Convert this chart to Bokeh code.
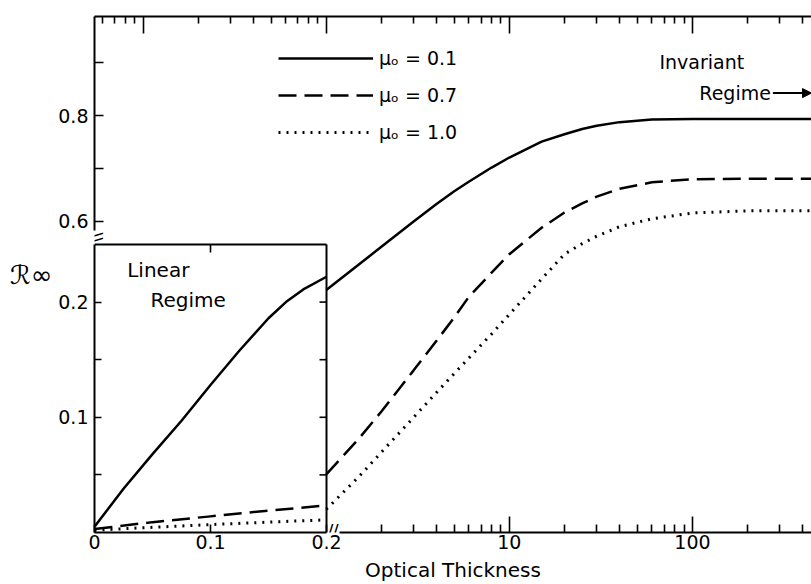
import math
from bokeh.plotting import figure
from bokeh.layouts import column
from bokeh.models import (Range1d, LinearAxis, LogAxis, FixedTicker, Label, Arrow,
                          NormalHead, Legend, LegendItem)
from bokeh.embed import file_html
from bokeh.resources import INLINE

# ---------------- data ----------------
# right-hand (log) part: optical thickness >= 1
tau = [1, 1.5, 2, 3, 4, 5, 6, 8, 10, 15, 20, 25, 30, 40, 60, 100, 200, 500]
r_mu01 = [0.470, 0.518, 0.552, 0.600, 0.633, 0.657, 0.675, 0.702, 0.721, 0.751,
          0.765, 0.775, 0.781, 0.788, 0.793, 0.794, 0.794, 0.794]
r_mu07 = [0.121, 0.188, 0.240, 0.318, 0.374, 0.418, 0.457, 0.503, 0.538, 0.588,
          0.617, 0.634, 0.647, 0.662, 0.674, 0.680, 0.681, 0.681]
r_mu10 = [0.055, 0.116, 0.163, 0.229, 0.276, 0.312, 0.341, 0.387, 0.424, 0.491,
          0.538, 0.558, 0.572, 0.590, 0.605, 0.616, 0.620, 0.620]

# inset (linear) part: optical thickness 0 .. 0.2
lin_x = [0, 0.025, 0.05, 0.075, 0.1, 0.125, 0.15, 0.165, 0.18, 0.2]
lin_mu01 = [0.005, 0.038, 0.068, 0.097, 0.128, 0.158, 0.186, 0.200, 0.211, 0.222]
lin_x2 = [0, 0.05, 0.1, 0.15, 0.2]
lin_mu07 = [0.003, 0.009, 0.014, 0.019, 0.0235]
lin_mu10 = [0.002, 0.0045, 0.0069, 0.009, 0.011]

legend_labels = ["\u03bc\u2092 = 0.1", "\u03bc\u2092 = 0.7", "\u03bc\u2092 = 1.0"]

upper_ticks = [0.6, 0.7, 0.8, 0.9]
upper_tick_labels = {0.6: "0.6", 0.7: "", 0.8: "0.8", 0.9: ""}
bottom_major = [10, 100]
bottom_major_labels = {10: "10", 100: "100"}
bottom_minor = [2, 3, 4, 5, 6, 7, 8, 9, 20, 30, 40, 50, 60, 70, 80, 90, 200, 300, 400]
top_major = [0.1, 1, 10, 100]
top_minor = [0.06, 0.07, 0.08, 0.09, 0.2, 0.3, 0.4, 0.5, 0.6, 0.7, 0.8, 0.9] + bottom_minor
inset_y_ticks = [0.05, 0.1, 0.15, 0.2]
inset_y_labels = {0.05: "", 0.1: "0.1", 0.15: "", 0.2: "0.2"}
inset_x_ticks = [0, 0.1, 0.2]
inset_x_labels = {0: "0", 0.1: "0.1", 0.2: "0.2"}
inset_top_ticks = [0.1]
inset_x_max = 0.2      # inset box: optical thickness 0 .. 0.2
inset_y_max = 0.25     # inset box: R 0 .. 0.25

# ---------------- styling ----------------
W, H = 811, 584
FONT = "DejaVu Sans"
INK = "black"
BORDERS = dict(min_border_left=94, min_border_right=0, min_border_top=16,
               min_border_bottom=52)


def style_axis(ax, tick_in, minor_in=0, labels=True, font_size="19px"):
    ax.axis_line_width = 2
    ax.axis_line_color = INK
    ax.major_tick_in = tick_in
    ax.major_tick_out = 0
    ax.minor_tick_in = minor_in
    ax.minor_tick_out = 0
    ax.major_tick_line_width = 1.6
    ax.minor_tick_line_width = 1.6
    ax.major_tick_line_color = INK
    ax.minor_tick_line_color = INK
    ax.major_label_text_font = FONT
    ax.major_label_text_color = INK
    ax.major_label_text_font_size = font_size if labels else "0px"


def blank_axis(ax):
    ax.ticker = FixedTicker(ticks=[])
    ax.axis_line_color = None
    ax.major_tick_line_color = None
    ax.minor_tick_line_color = None
    ax.major_label_text_font_size = "0px"


# ---------------- main (log) figure ----------------
p = figure(width=W, height=H, x_axis_type="log",
           x_range=Range1d(0.0542, 447), y_range=Range1d(0.011, 0.988),
           output_backend="svg", toolbar_location=None, outline_line_color=None,
           background_fill_color="white", border_fill_color="white", **BORDERS)
p.grid.visible = False

xb = p.xaxis[0]
xb.ticker = FixedTicker(ticks=bottom_major, minor_ticks=bottom_minor)
xb.major_label_overrides = bottom_major_labels
style_axis(xb, 16, 8)
xb.major_label_standoff = 2
xb.bounds = (1.18, 447)

yl = p.yaxis[0]
yl.ticker = FixedTicker(ticks=upper_ticks)
yl.major_label_overrides = upper_tick_labels
style_axis(yl, 9)
yl.major_label_standoff = 6
yl.bounds = (0.583, 0.988)

xt = LogAxis(ticker=FixedTicker(ticks=top_major, minor_ticks=top_minor),
             major_label_overrides={t: "" for t in top_major})
style_axis(xt, 17, 7, labels=False)
xt.major_label_standoff = 0
p.add_layout(xt, "above")

r1 = p.line(tau, r_mu01, line_color=INK, line_width=2.5)
r2 = p.line(tau, r_mu07, line_color=INK, line_width=2.5, line_dash="18 8")
r3 = p.line(tau, r_mu10, line_color=INK, line_width=3, line_dash="2 6")

legend = Legend(items=[LegendItem(label=legend_labels[0], renderers=[r1]),
                       LegendItem(label=legend_labels[1], renderers=[r2]),
                       LegendItem(label=legend_labels[2], renderers=[r3])],
                location=(184, 389), glyph_width=95, glyph_height=20,
                label_height=20, spacing=15, padding=0, margin=0,
                border_line_color=None, background_fill_alpha=0,
                label_text_font=FONT, label_text_font_size="19px",
                label_text_color=INK, label_standoff=6)
p.add_layout(legend)

p.add_layout(Label(x=66, y=0.902, text="Invariant", text_font=FONT, text_color=INK,
                   text_font_size="19px", text_align="left", text_baseline="middle"))
p.add_layout(Label(x=109, y=0.844, text="Regime", text_font=FONT, text_color=INK,
                   text_font_size="19px", text_align="left", text_baseline="middle"))
p.add_layout(Arrow(x_start=275, y_start=0.843, x_end=447, y_end=0.843,
                   line_width=2, line_color=INK,
                   end=NormalHead(size=9, fill_color=INK, line_color=INK)))

# ---------------- inset (linear) figure, overlaid with the same frame ----------------
q = figure(width=W, height=H, x_range=Range1d(0, 0.6181), y_range=Range1d(0, 0.4479),
           output_backend="svg", toolbar_location=None, outline_line_color=None,
           background_fill_alpha=0, border_fill_alpha=0, margin=(-H, 0, 0, 0),
           **BORDERS)
q.grid.visible = False

qb = q.xaxis[0]
qb.ticker = FixedTicker(ticks=inset_x_ticks)
qb.major_label_overrides = inset_x_labels
style_axis(qb, 8)
qb.major_label_standoff = 2
qb.bounds = (0, inset_x_max)

ql = q.yaxis[0]
ql.ticker = FixedTicker(ticks=inset_y_ticks)
ql.major_label_overrides = inset_y_labels
style_axis(ql, 7)
ql.major_label_standoff = 6
ql.bounds = (0, inset_y_max)

# inset box: top and right edges with inward ticks
q.segment(x0=[0, inset_x_max], y0=[inset_y_max, 0],
          x1=[inset_x_max, inset_x_max], y1=[inset_y_max, inset_y_max],
          line_color=INK, line_width=2)
q.ray(x=[inset_x_max] * len(inset_y_ticks), y=inset_y_ticks, length=7,
      angle=math.pi, length_units="screen", line_color=INK, line_width=1.6)
q.ray(x=inset_top_ticks, y=[inset_y_max] * len(inset_top_ticks), length=8,
      angle=-math.pi / 2, length_units="screen", line_color=INK, line_width=1.6)

q.line(lin_x, lin_mu01, line_color=INK, line_width=2.5)
q.line(lin_x2, lin_mu07, line_color=INK, line_width=2.5, line_dash="18 8")
q.line(lin_x2, lin_mu10, line_color=INK, line_width=3, line_dash="2 6")

q.add_layout(Label(x=0.0282, y=0.228, text="Linear", text_font=FONT, text_color=INK,
                   text_font_size="20px", text_align="left", text_baseline="middle"))
q.add_layout(Label(x=0.0483, y=0.202, text="Regime", text_font=FONT, text_color=INK,
                   text_font_size="20px", text_align="left", text_baseline="middle"))

# axis-break marks
q.add_layout(Label(x=0.206, y=0.003, text="//", text_font=FONT, text_font_size="14px",
                   text_font_style="bold", text_color=INK, text_align="center",
                   text_baseline="middle"))
q.add_layout(Label(x=0.003, y=0.256, text="\\\\", text_font=FONT, text_font_size="14px",
                   text_font_style="bold", text_color=INK, angle=-math.pi / 2,
                   text_align="center", text_baseline="middle"))

# ---------------- axis titles (carried by a third, transparent overlay) ----------------
r = figure(width=W, height=H, x_range=Range1d(0, 1), y_range=Range1d(0, 1),
           output_backend="svg", toolbar_location=None, outline_line_color=None,
           background_fill_alpha=0, border_fill_alpha=0, margin=(-H, 0, 0, 0),
           **BORDERS)
r.grid.visible = False
rb = r.xaxis[0]
blank_axis(rb)
rb.axis_label = "Optical Thickness"
rb.axis_label_text_font = FONT
rb.axis_label_text_font_style = "normal"
rb.axis_label_text_font_size = "20px"
rb.axis_label_text_color = INK
rb.axis_label_standoff = 25
rl = r.yaxis[0]
blank_axis(rl)
rl.axis_label = "\u211b\u221e"
rl.axis_label_orientation = "horizontal"
rl.axis_label_text_font = FONT
rl.axis_label_text_font_style = "italic"
rl.axis_label_text_font_size = "26px"
rl.axis_label_text_color = INK
rl.axis_label_standoff = 42

layout = column(p, q, r, spacing=0)

open("out.html", "w").write(file_html(layout, INLINE))
